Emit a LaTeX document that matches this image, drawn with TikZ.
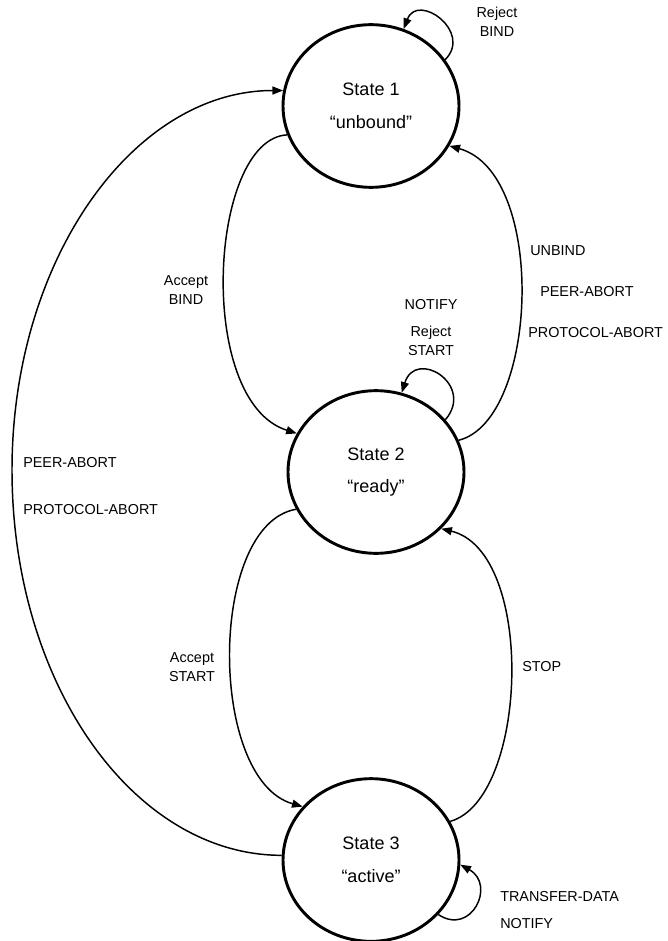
\documentclass[tikz,border=0pt]{standalone}
\usepackage{fontspec}
\setmainfont{Liberation Sans}
\usetikzlibrary{shapes.geometric,arrows.meta}
\begin{document}
\begin{tikzpicture}[x=0.75pt,y=-0.75pt,
  state/.style={ellipse,draw,line width=2.2pt,minimum width=132pt,minimum height=122pt,inner sep=0pt,align=center,font=\fontsize{13.5}{24.5}\selectfont},
  trans/.style={line width=1.1pt,-{Triangle[length=8pt,width=6pt]}},
  lbl/.style={inner sep=0pt,font=\fontsize{10.8}{14.25}\selectfont,align=center}]
\path[use as bounding box,fill=white] (0,0) rectangle (667,941);

\node[state] (s1) at (371,106) {State 1\\“unbound”};
\node[state] (s2) at (376,472) {State 2\\“ready”};
\node[state] (s3) at (371,860) {State 3\\“active”};
\coordinate (bl) at (12,470);

% transitions
\draw[trans] (s1.199) .. controls +(-78,4) and +(-102,-32) .. (s2.154);
\draw[trans] (s2.21) .. controls +(80,-20) and +(98,27) .. (s1.333);
\draw[trans] (s2.205) .. controls +(-88,15) and +(-95,-27) .. (s3.142);
\draw[trans] (s3.26) .. controls +(78,-22) and +(95,23) .. (s2.319);
\draw[trans] (s3.177) .. controls +(-148,0) and +(0,214) .. (bl) .. controls +(0,-210) and +(-150,0) .. (s1.170);

% self loops
\draw[trans] (s1.32) .. controls +(28,-28) and +(14,-37) .. (s1.67);
\draw[trans] (s2.37) .. controls +(30,-35) and +(14,-45) .. (s2.72);
\draw[trans] (s3.321) .. controls +(33,22) and +(36,20) .. (s3.357);

% labels
\node[lbl] (l1) at (497,22) {Reject\\BIND};
\node[lbl] (l2) at (431,305) {NOTIFY};
\node[lbl] (l3) at (431,341) {Reject\\START};
\node[lbl,anchor=west] (l4) at (530,251) {UNBIND};
\node[lbl,anchor=west] (l5) at (540,292) {PEER-ABORT};
\node[lbl,anchor=west] (l6) at (528,333) {PROTOCOL-ABORT};
\node[lbl] (l7) at (186,290) {Accept\\BIND};
\node[lbl] (l8) at (192,667) {Accept\\START};
\node[lbl,anchor=west] (l9) at (522,667) {STOP};
\node[lbl,anchor=west] (l10) at (23,463) {PEER-ABORT};
\node[lbl,anchor=west] (l11) at (23,510) {PROTOCOL-ABORT};
\node[lbl,anchor=west] (l12) at (500,897) {TRANSFER-DATA};
\node[lbl,anchor=west] (l13) at (500,924) {NOTIFY};
\end{tikzpicture}
\end{document}
